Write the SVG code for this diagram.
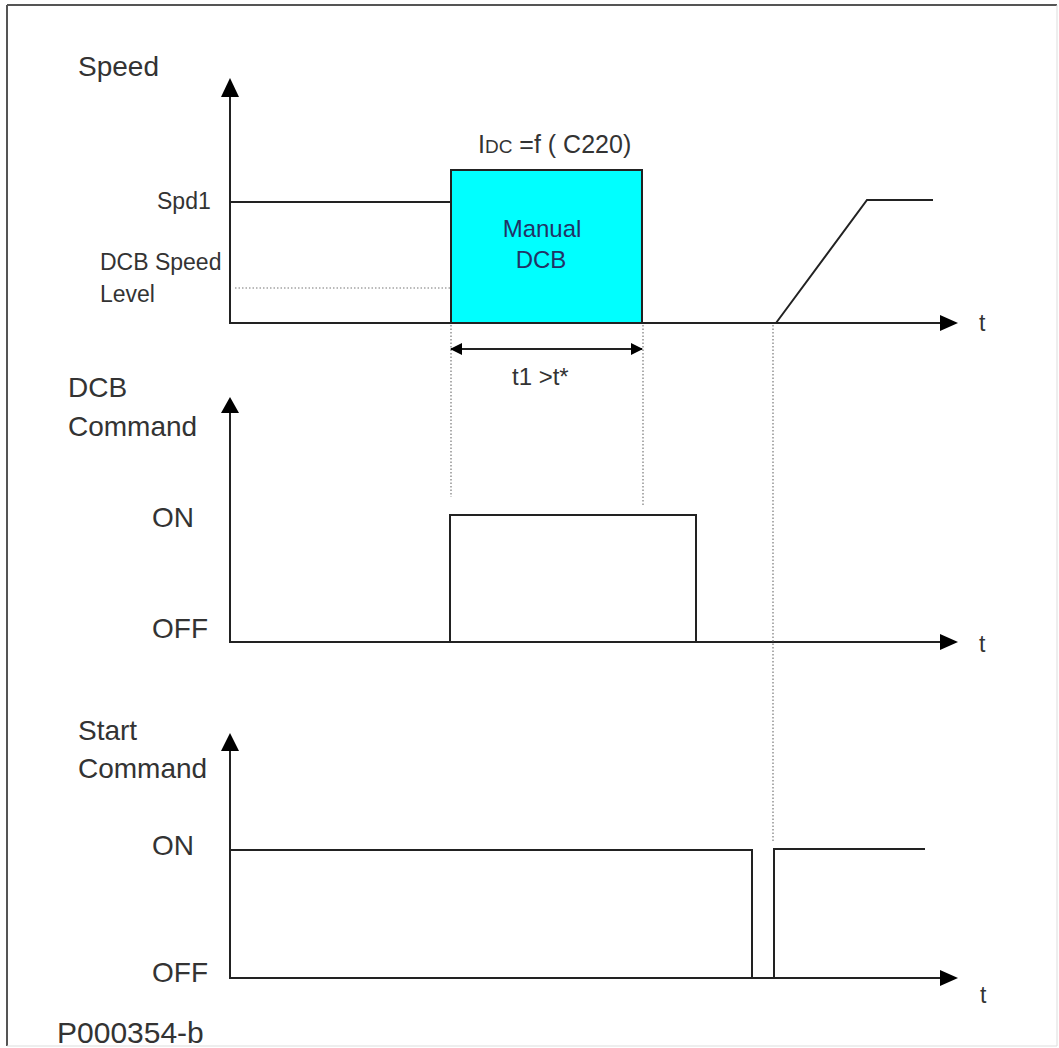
<svg xmlns="http://www.w3.org/2000/svg" width="1059" height="1048" viewBox="0 0 1059 1048">
<defs>
<style>
text{font-family:"Liberation Sans",Arial,sans-serif;fill:#333}
.big{font-size:28px}
.mid{font-size:23px}
.ln{fill:none;stroke:#222;stroke-width:2}
.dot{fill:none;stroke:#777;stroke-width:1.2;stroke-dasharray:1.5 2}
.ah{fill:#000}
</style>
<marker id="dh" viewBox="0 0 12 12" refX="11" refY="6" markerWidth="12" markerHeight="12" markerUnits="userSpaceOnUse" orient="auto-start-reverse">
<path d="M0,0 L12,6 L0,12 z" fill="#000"/>
</marker>
</defs>
<rect x="0" y="0" width="1059" height="1048" fill="#fff"/>
<g id="frame">
<line x1="7" y1="5" x2="1057" y2="5" stroke="#555" stroke-width="2"/>
<line x1="7" y1="5" x2="7" y2="1046" stroke="#555" stroke-width="2"/>
<line x1="1057" y1="5" x2="1057" y2="1046" stroke="#ddd" stroke-width="1"/>
<line x1="7" y1="1046" x2="1057" y2="1046" stroke="#ddd" stroke-width="1"/>
</g>

<g id="axes">
<path class="ln" d="M230,95 V323 H942"/>
<path class="ah" d="M230,78 L239,97 L221,97 z"/>
<path class="ah" d="M958,323 L940,315 L940,331 z"/>
<path class="ln" d="M230,411 V642 H942"/>
<path class="ah" d="M230,397 L239,413 L221,413 z"/>
<path class="ah" d="M958,642 L940,634 L940,650 z"/>
<path class="ln" d="M230,749 V978 H942"/>
<path class="ah" d="M230,733 L239,751 L221,751 z"/>
<path class="ah" d="M958,978 L940,970 L940,986 z"/>
</g>

<g id="labels">
<text class="big" x="78" y="76">Speed</text>
<text class="mid" x="157" y="209">Spd1</text>
<text class="mid" x="100" y="270">DCB Speed</text>
<text class="mid" x="100" y="302">Level</text>
<text class="mid" x="979" y="331">t</text>
<text class="big" x="68" y="397">DCB</text>
<text class="big" x="68" y="436">Command</text>
<text class="big" x="152" y="527">ON</text>
<text class="big" x="152" y="638">OFF</text>
<text class="mid" x="979" y="652">t</text>
<text class="big" x="78" y="740">Start</text>
<text class="big" x="78" y="778">Command</text>
<text class="big" x="152" y="855">ON</text>
<text class="big" x="152" y="982">OFF</text>
<text class="mid" x="980" y="1003">t</text>
<text class="big" x="57" y="1043" style="font-size:30px">P000354-b</text>
</g>

<g id="dcb-box">
<rect x="451" y="170" width="191" height="153" fill="#00ffff" stroke="#222" stroke-width="2"/>
<text x="542" y="237" text-anchor="middle" style="font-size:24px;fill:#223366">Manual</text>
<text x="541" y="268" text-anchor="middle" style="font-size:24px;fill:#223366">DCB</text>
<text x="478" y="153" style="font-size:25px">I<tspan style="font-size:19px">DC</tspan> =f ( C220)</text>
</g>

<g id="connectors">
<line class="dot" x1="235" y1="288" x2="450" y2="288"/>
<line class="dot" x1="451" y1="325" x2="451" y2="497"/>
<line class="dot" x1="643" y1="325" x2="643" y2="507"/>
<line class="dot" x1="773" y1="325" x2="773" y2="843"/>
<path class="ln" d="M230,202 H451"/>
<path class="ln" d="M776,323 L867,200 H933"/>
<line class="ln" x1="451" y1="349" x2="642" y2="349" marker-start="url(#dh)" marker-end="url(#dh)"/>
<text x="512" y="385" style="font-size:24px">t1 &gt;t*</text>
<path class="ln" d="M450,642 V515 H696 V642"/>
<path class="ln" d="M230,850 H752 V978"/>
<path class="ln" d="M774,978 V849 H925"/>
</g>
</svg>
